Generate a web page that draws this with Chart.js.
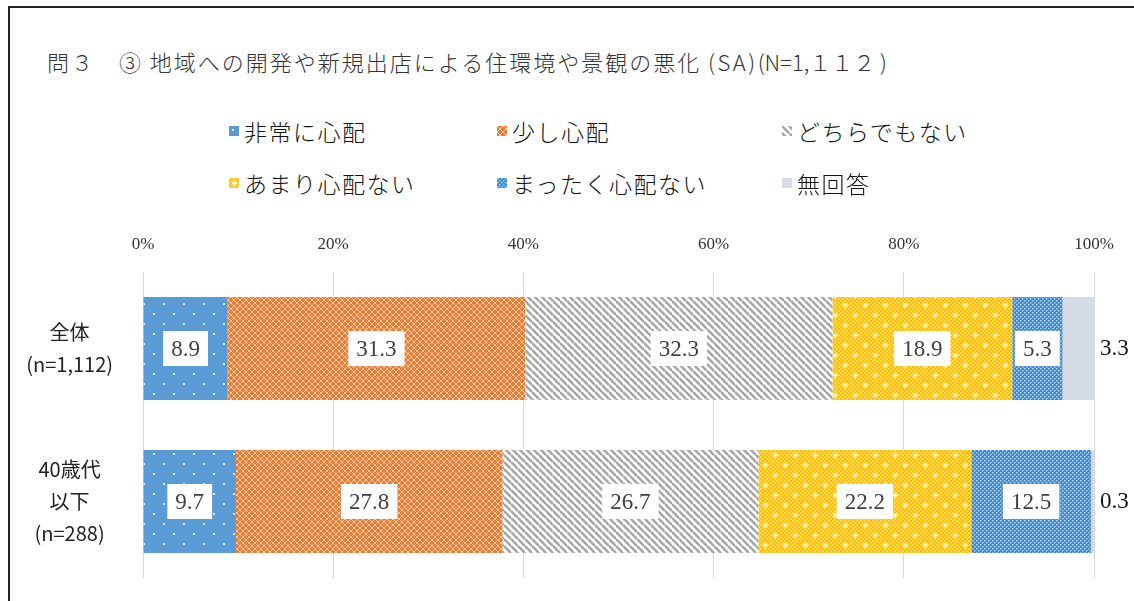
<!DOCTYPE html>
<html>
<head>
<meta charset="utf-8">
<script src="https://cdn.jsdelivr.net/npm/chart.js@4/dist/chart.umd.min.js"></script>
<style>
body { margin: 0; background: #fff; }
#wrap { position: relative; width: 1134px; height: 601px; overflow: hidden; font-family: "Noto Sans CJK JP", sans-serif; }
#frame { position: absolute; left: 8px; top: 6px; width: 1200px; height: 700px; border: 2px solid #222; }
#title { position: absolute; left: 47px; top: 45px; font-size: 22px; letter-spacing: 2px; color: #333; white-space: nowrap; font-weight: 300; }
#title .sa { letter-spacing: 2.5px; }
#title .n { letter-spacing: 0; }
.lg { position: absolute; font-size: 23px; letter-spacing: 1.5px; color: #111; display: flex; align-items: center; white-space: nowrap; font-weight: 300; }
.lg canvas { margin-right: 5px; }
#chart { position: absolute; left: 0; top: 0; }
</style>
</head>
<body>
<div id="wrap">
  <div id="frame"></div>
  <div id="title">問３　③ 地域への開発や新規出店による住環境や景観の悪化 <span class="sa">(SA)</span><span class="n">(N=1,１１２ )</span></div>
  <div id="legend"></div>
  <canvas id="chart" width="1134" height="601"></canvas>
</div>
<script>
// categories & values (percent)
const categories = [["全体", "(n=1,112)"], ["40歳代", "以下", "(n=288)"]];
const seriesNames = ["非常に心配", "少し心配", "どちらでもない", "あまり心配ない", "まったく心配ない", "無回答"];
const veryWorried = [8.9, 9.7];
const littleWorried = [31.3, 27.8];
const neither = [32.3, 26.7];
const notMuch = [18.9, 22.2];
const notAtAll = [5.3, 12.5];
const noAnswer = [3.3, 0.3];
const seriesValues = [veryWorried, littleWorried, neither, notMuch, notAtAll, noAnswer];
const tickValues = [0, 20, 40, 60, 80, 100];

// 100% stacked: normalise each row by its total
const rowTotals = categories.map((c, j) => seriesValues.reduce((s, arr) => s + arr[j], 0));

// 🎨 pattern fills
function tile(w, h, draw) {
    const c = document.createElement("canvas");
    c.width = w; c.height = h;
    draw(c.getContext("2d"));
    return c;
}

const patternTiles = [
    // blue with white dots
    tile(20, 20, g => {
        g.fillStyle = "#5B9BD5"; g.fillRect(0, 0, 20, 20);
        g.fillStyle = "#ffffff";
        [[4, 4], [14, 14]].forEach(p => { g.beginPath(); g.arc(p[0], p[1], 1.1, 0, Math.PI * 2); g.fill(); });
    }),
    // orange lattice
    tile(6, 6, g => {
        g.fillStyle = "#ED7D31"; g.fillRect(0, 0, 6, 6);
        g.strokeStyle = "rgba(255,255,255,0.6)"; g.lineWidth = 1;
        g.beginPath(); g.moveTo(0, 0); g.lineTo(6, 6); g.moveTo(6, 0); g.lineTo(0, 6); g.stroke();
    }),
    // gray diagonal stripes
    tile(7, 7, g => {
        g.fillStyle = "#ffffff"; g.fillRect(0, 0, 7, 7);
        g.strokeStyle = "#A5A5A5"; g.lineWidth = 2.5;
        g.beginPath();
        for (let c = -14; c <= 14; c += 7) { g.moveTo(0, c); g.lineTo(7, c + 7); }
        g.stroke();
    }),
    // yellow checker with white sparkles
    tile(20, 20, g => {
        g.fillStyle = "#FFC000"; g.fillRect(0, 0, 20, 20);
        g.fillStyle = "rgba(255,255,255,0.35)";
        for (let i = 0; i < 10; i++) for (let j = 0; j < 10; j++) if ((i + j) % 2 === 0) g.fillRect(i * 2, j * 2, 2, 2);
        g.fillStyle = "#ffffff";
        [[5, 5], [15, 15]].forEach(p => { g.fillRect(p[0] - 2, p[1] - 0.5, 5, 1.5); g.fillRect(p[0] - 0.5, p[1] - 2, 1.5, 5); });
    }),
    // blue fine checker
    tile(4, 4, g => {
        g.fillStyle = "#3D8BD0"; g.fillRect(0, 0, 4, 4);
        g.fillStyle = "rgba(255,255,255,0.6)";
        g.fillRect(0, 0, 1.5, 1.5); g.fillRect(2, 2, 1.5, 1.5);
    }),
    // light gray solid
    tile(4, 4, g => { g.fillStyle = "#D6DCE5"; g.fillRect(0, 0, 4, 4); })
];

const ctx = document.getElementById("chart").getContext("2d");
const patterns = patternTiles.map(t => ctx.createPattern(t, "repeat"));

// 📋 legend (3 columns x 2 rows)
const legendEl = document.getElementById("legend");
const legendX = [229, 497, 782];
const legendY = [131, 183];
seriesNames.forEach((name, i) => {
    const item = document.createElement("div");
    item.className = "lg";
    const sw = document.createElement("canvas");
    sw.width = 10; sw.height = 10;
    const sg = sw.getContext("2d");
    sg.fillStyle = sg.createPattern(patternTiles[i], "repeat");
    sg.fillRect(0, 0, 10, 10);
    item.appendChild(sw);
    item.appendChild(document.createTextNode(name));
    item.style.left = legendX[i % 3] + "px";
    item.style.top = (legendY[Math.floor(i / 3)] - 17) + "px";
    legendEl.appendChild(item);
});

// 🏷 value labels
const valueLabels = {
    id: "valueLabels",
    afterDatasetsDraw(chart) {
        const c = chart.ctx;
        c.save();
        c.font = "23px 'Liberation Serif', serif";
        c.textBaseline = "middle";
        chart.data.datasets.forEach((ds, i) => {
            const meta = chart.getDatasetMeta(i);
            meta.data.forEach((bar, j) => {
                const txt = seriesValues[i][j].toFixed(1);
                if (i === seriesValues.length - 1) {
                    c.fillStyle = "#111";
                    c.textAlign = "left";
                    c.fillText(txt, chart.chartArea.right + 6, bar.y);
                    return;
                }
                const cx = (bar.x + bar.base) / 2;
                const w = c.measureText(txt).width + 16;
                const h = 35;
                c.fillStyle = "#ffffff";
                c.fillRect(cx - w / 2, bar.y - h / 2, w, h);
                c.fillStyle = "#404040";
                c.textAlign = "center";
                c.fillText(txt, cx, bar.y + 1);
            });
        });
        c.restore();
    }
};

new Chart(ctx, {
    type: "bar",
    data: {
        labels: categories,
        datasets: seriesValues.map((vals, i) => ({
            label: seriesNames[i],
            data: vals.map((v, j) => v / rowTotals[j] * 100),
            backgroundColor: patterns[i],
            borderWidth: 0,
            barPercentage: 0.673,
            categoryPercentage: 1
        }))
    },
    options: {
        indexAxis: "y",
        responsive: false,
        animation: false,
        devicePixelRatio: 1,
        layout: { padding: { top: 230, left: 0, right: 40, bottom: 23 } },
        plugins: { legend: { display: false }, tooltip: { enabled: false } },
        scales: {
            x: {
                position: "top",
                stacked: true,
                min: 0,
                max: 100,
                afterBuildTicks: scale => { scale.ticks = tickValues.map(v => ({ value: v })); },
                afterFit: scale => { scale.height = 42; scale.paddingLeft = 0; scale.paddingRight = 0; },
                grid: { color: "#D9D9D9", drawTicks: false },
                border: { display: false },
                ticks: {
                    padding: 17,
                    color: "#333",
                    font: { family: "'Liberation Serif', serif", size: 17 },
                    callback: v => v + "%"
                }
            },
            y: {
                stacked: true,
                afterFit: scale => { scale.width = 143; scale.paddingTop = 0; scale.paddingBottom = 0; },
                grid: { display: false },
                border: { display: false },
                ticks: {
                    crossAlign: "center",
                    padding: 22,
                    color: "#222",
                    font: { family: "'Noto Sans CJK JP', sans-serif", size: 20, lineHeight: 1.6 }
                }
            }
        }
    },
    plugins: [valueLabels]
});
</script>
</body>
</html>
